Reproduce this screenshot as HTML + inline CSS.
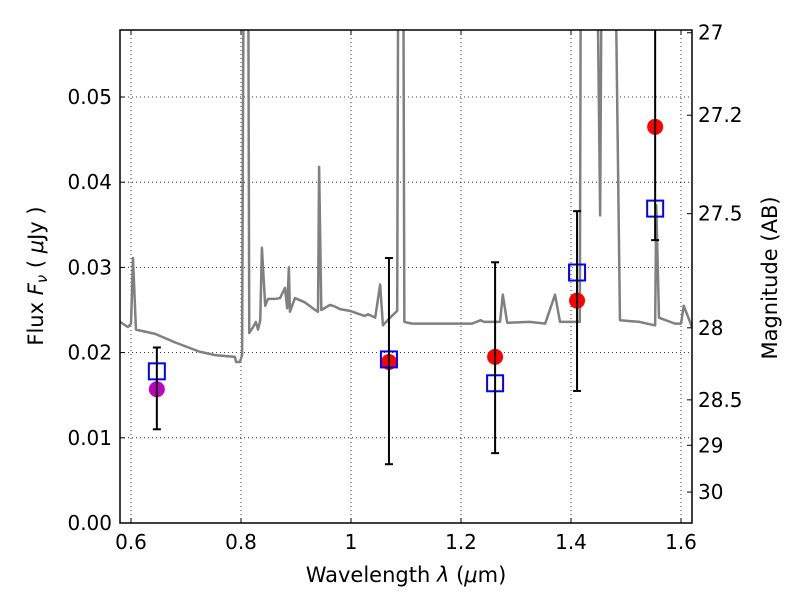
<!DOCTYPE html>
<html><head><meta charset="utf-8"><style>
body{margin:0;background:#fff;}
svg text{font-family:"DejaVu Sans","Liberation Sans",sans-serif;fill:#000;}
</style></head><body>
<svg id="chart" width="800" height="600" xmlns="http://www.w3.org/2000/svg">
<defs><clipPath id="clip"><rect x="120" y="30" width="572" height="493"/></clipPath></defs>
<g id="grid"></g>
<g id="spec" clip-path="url(#clip)"></g>
<g id="pts" clip-path="url(#clip)"></g>
<rect x="120" y="30" width="572" height="493" fill="none" stroke="#000" stroke-width="1.5"/>
<g id="axes"></g>
<text x="406" y="582" font-size="21" text-anchor="middle">Wavelength  <tspan font-style="italic">λ</tspan> (<tspan font-style="italic">μ</tspan>m)</text>
<text transform="translate(43,276) rotate(-90)" font-size="21" text-anchor="middle">Flux  <tspan font-style="italic">F</tspan><tspan font-style="italic" font-size="15" dy="4">ν</tspan><tspan dy="-4">  ( </tspan><tspan font-style="italic">μ</tspan>Jy )</text>
<text transform="translate(777,278) rotate(-90)" font-size="21" text-anchor="middle">Magnitude (AB)</text>
</svg>
<script>
const specLambda=[0.58,0.5945,0.6,0.6036,0.609,0.644,0.68,0.725,0.753,0.789,0.791,0.798,0.802,0.805,0.813,0.815,0.822,0.827,0.831,0.835,0.838,0.844,0.849,0.862,0.871,0.880,0.884,0.887,0.889,0.898,0.916,0.935,0.940,0.942,0.946,0.962,0.971,0.980,0.998,1.016,1.025,1.031,1.044,1.053,1.058,1.071,1.084,1.086,1.095,1.097,1.111,1.147,1.183,1.220,1.236,1.242,1.271,1.276,1.284,1.325,1.353,1.371,1.380,1.416,1.418,1.447,1.453,1.456,1.476,1.480,1.489,1.525,1.552,1.553,1.555,1.560,1.589,1.600,1.605,1.620];
const specFlux=[0.0236,0.0230,0.0234,0.0311,0.0227,0.0222,0.0212,0.0201,0.0197,0.0195,0.0189,0.0189,0.0197,0.07,0.07,0.0223,0.0230,0.0236,0.0227,0.0238,0.0323,0.0255,0.0263,0.0263,0.0264,0.0276,0.0252,0.0300,0.0248,0.0264,0.0259,0.0250,0.0248,0.0418,0.0250,0.0256,0.0254,0.0251,0.0249,0.0245,0.0243,0.0245,0.0241,0.0280,0.0232,0.0241,0.0249,0.07,0.07,0.0236,0.0234,0.0234,0.0234,0.0234,0.0238,0.0236,0.0236,0.0268,0.0235,0.0236,0.0234,0.0268,0.0236,0.0236,0.07,0.07,0.0361,0.07,0.07,0.07,0.0238,0.0236,0.0232,0.0232,0.0373,0.0241,0.0234,0.0234,0.0255,0.0230];
const photLambda=[0.647,1.069,1.262,1.411,1.553];
const circleFlux=[0.0157,0.0189,0.0195,0.0261,0.0465];
const circleColor=['#bf00bf','#ff0000','#ff0000','#ff0000','#ff0000'];
const squareFlux=[0.0178,0.0192,0.0164,0.0294,0.0369];
const errLow=[0.0110,0.0069,0.0082,0.0155,0.0332];
const errHigh=[0.0206,0.0311,0.0306,0.0366,0.0700];
const xTicks=[0.6,0.8,1.0,1.2,1.4,1.6];
const xTickLabels=['0.6','0.8','1','1.2','1.4','1.6'];
const yTicks=[0,0.01,0.02,0.03,0.04,0.05];
const yTickLabels=['0.00','0.01','0.02','0.03','0.04','0.05'];
const magTicks=[27,27.2,27.5,28,28.5,29,30];
const magTickLabels=['27','27.2','27.5','28','28.5','29','30'];

const X0=120,X1=692,Y0=523,Y1=30,LMIN=0.58,LMAX=1.62,FMAX=(523-30)/8520;
const xs=l=>X0+(l-LMIN)/(LMAX-LMIN)*(X1-X0);
const ys=f=>Y0-f/FMAX*(Y0-Y1);
const mag2flux=m=>Math.pow(10,(23.9-m)/2.5);
const NS='http://www.w3.org/2000/svg';
function mk(tag,attrs,parent){const e=document.createElementNS(NS,tag);for(const k in attrs)e.setAttribute(k,attrs[k]);parent.appendChild(e);return e;}
const grid=document.getElementById('grid'),axes=document.getElementById('axes'),spec=document.getElementById('spec'),pts=document.getElementById('pts');

xTicks.forEach((t,i)=>{const x=xs(t);
 const g=mk('line',{x1:x,x2:x,y1:Y1,y2:Y0,stroke:'#000','stroke-width':0.8,'stroke-dasharray':'1,3'},grid);
 
 
 mk('line',{x1:x,x2:x,y1:Y0,y2:Y0-5,stroke:'#000'},axes);
 mk('line',{x1:x,x2:x,y1:Y1,y2:Y1+5,stroke:'#000'},axes);
 const tx=mk('text',{x:x,y:Y0+26,'font-size':20,'text-anchor':'middle'},axes);tx.textContent=xTickLabels[i];
 
 
});
yTicks.forEach((t,i)=>{const y=ys(t);
 if(t>0){const g=mk('line',{x1:X0,x2:X1,y1:y,y2:y,stroke:'#000','stroke-width':0.8,'stroke-dasharray':'1,3'},grid);
 
 }
 mk('line',{x1:X0,x2:X0+5,y1:y,y2:y,stroke:'#000'},axes);
 const tx=mk('text',{x:X0-8,y:y+7,'font-size':20,'text-anchor':'end'},axes);tx.textContent=yTickLabels[i];
 
 
});
magTicks.forEach((m,i)=>{const y=ys(mag2flux(m));
 mk('line',{x1:X1,x2:X1-5,y1:y,y2:y,stroke:'#000'},axes);
 const tx=mk('text',{x:X1+6,y:y+7,'font-size':20,'text-anchor':'start'},axes);tx.textContent=magTickLabels[i];
 
 
});

const p=mk('polyline',{points:specLambda.map((l,i)=>xs(l)+','+ys(specFlux[i])).join(' '),fill:'none',stroke:'#808080','stroke-width':2.5,'stroke-linejoin':'round'},spec);



photLambda.forEach((l,i)=>{const x=xs(l);
 const c=mk('circle',{cx:x,cy:ys(circleFlux[i]),r:8,fill:circleColor[i]},pts);
 
 
 const s=mk('rect',{x:x-8,y:ys(squareFlux[i])-8,width:16,height:16,fill:'none',stroke:'#0000ff','stroke-width':2},pts);
 
 
 const e=mk('g',{},pts);
 
 
 mk('line',{x1:x,x2:x,y1:ys(errLow[i]),y2:ys(errHigh[i]),stroke:'#000','stroke-width':2},e);
 mk('line',{x1:x-4,x2:x+4,y1:ys(errLow[i]),y2:ys(errLow[i]),stroke:'#000','stroke-width':2},e);
 mk('line',{x1:x-4,x2:x+4,y1:ys(errHigh[i]),y2:ys(errHigh[i]),stroke:'#000','stroke-width':2},e);
});
</script>
</body></html>
